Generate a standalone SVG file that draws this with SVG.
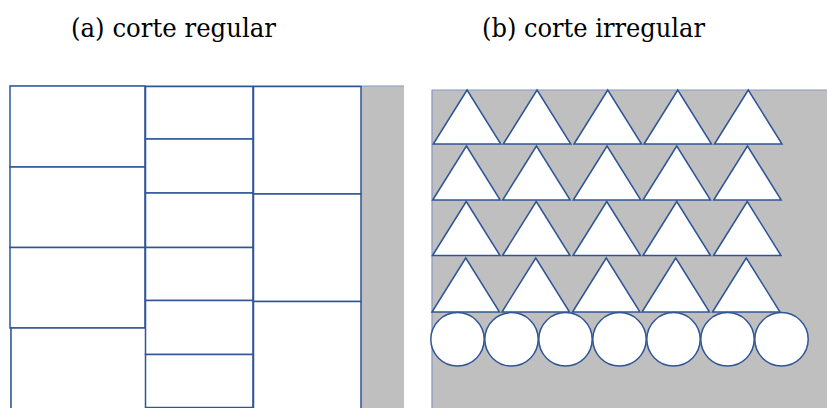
<svg xmlns="http://www.w3.org/2000/svg" xmlns:xlink="http://www.w3.org/1999/xlink" width="827" height="408" viewBox="0 0 827 408">
<style>
.t{font-family:"DejaVu Serif",serif;font-size:26px;fill:#000}
.grey{fill:#bfbfbf}
.pc{fill:#fff;stroke:#2f5597;stroke-width:1.5}
.edge{fill:none;stroke:#8497c4;stroke-width:1.2}
</style>
<defs>
<path id="tri" d="M0,54 L33.75,0 L67.5,54 Z"/>
</defs>
<rect width="827" height="408" fill="#fff"/>
<text class="t" x="71" y="36.5" textLength="205" lengthAdjust="spacingAndGlyphs">(a) corte regular</text>
<text class="t" x="482" y="36.5" textLength="223" lengthAdjust="spacingAndGlyphs">(b) corte irregular</text>

<g id="panel-a">
<rect class="grey" x="10" y="86" width="394" height="322"/>
<line class="edge" x1="10" y1="86" x2="404" y2="86"/>
<g class="pc">
<rect x="10" y="86" width="135" height="81"/>
<rect x="10" y="167" width="135" height="80.5"/>
<rect x="10" y="247.5" width="135" height="80.5"/>
<rect x="11" y="328" width="135" height="82"/>
<rect x="145.5" y="86.5" width="107.5" height="52.5"/>
<rect x="145.5" y="139" width="107.5" height="54"/>
<rect x="145.5" y="193" width="107.5" height="54.5"/>
<rect x="145.5" y="247.5" width="107.5" height="53"/>
<rect x="145.5" y="300.5" width="107.5" height="54"/>
<rect x="145.5" y="354.5" width="107.5" height="53"/>
<rect x="253.5" y="86.5" width="107.5" height="107.5"/>
<rect x="253.5" y="194" width="107.5" height="107.5"/>
<rect x="253.5" y="301.5" width="107.5" height="108"/>
</g>
</g>

<g id="panel-b">
<rect class="grey" x="432" y="90" width="395" height="318"/>
<path class="edge" d="M432,408 L432,90 L827,90"/>
<g class="pc">
<use xlink:href="#tri" x="433.3" y="90"/>
<use xlink:href="#tri" x="503.3" y="90"/>
<use xlink:href="#tri" x="574" y="90"/>
<use xlink:href="#tri" x="644" y="90"/>
<use xlink:href="#tri" x="714.5" y="90"/>
<use xlink:href="#tri" x="432.7" y="146"/>
<use xlink:href="#tri" x="502.7" y="146"/>
<use xlink:href="#tri" x="573.3" y="146"/>
<use xlink:href="#tri" x="643" y="146"/>
<use xlink:href="#tri" x="713.7" y="146"/>
<use xlink:href="#tri" x="432.5" y="201.5"/>
<use xlink:href="#tri" x="502.5" y="201.5"/>
<use xlink:href="#tri" x="573" y="201.5"/>
<use xlink:href="#tri" x="643" y="201.5"/>
<use xlink:href="#tri" x="713.5" y="201.5"/>
<use xlink:href="#tri" x="432" y="258"/>
<use xlink:href="#tri" x="502" y="258"/>
<use xlink:href="#tri" x="572.5" y="258"/>
<use xlink:href="#tri" x="642" y="258"/>
<use xlink:href="#tri" x="712.5" y="258"/>
<circle cx="457.5" cy="339.3" r="26.7"/>
<circle cx="511.5" cy="339.3" r="26.7"/>
<circle cx="565.5" cy="339.3" r="26.7"/>
<circle cx="619.5" cy="339.3" r="26.7"/>
<circle cx="673.5" cy="339.3" r="26.7"/>
<circle cx="727.5" cy="339.3" r="26.7"/>
<circle cx="781.5" cy="339.3" r="26.7"/>
</g>
</g>
</svg>
